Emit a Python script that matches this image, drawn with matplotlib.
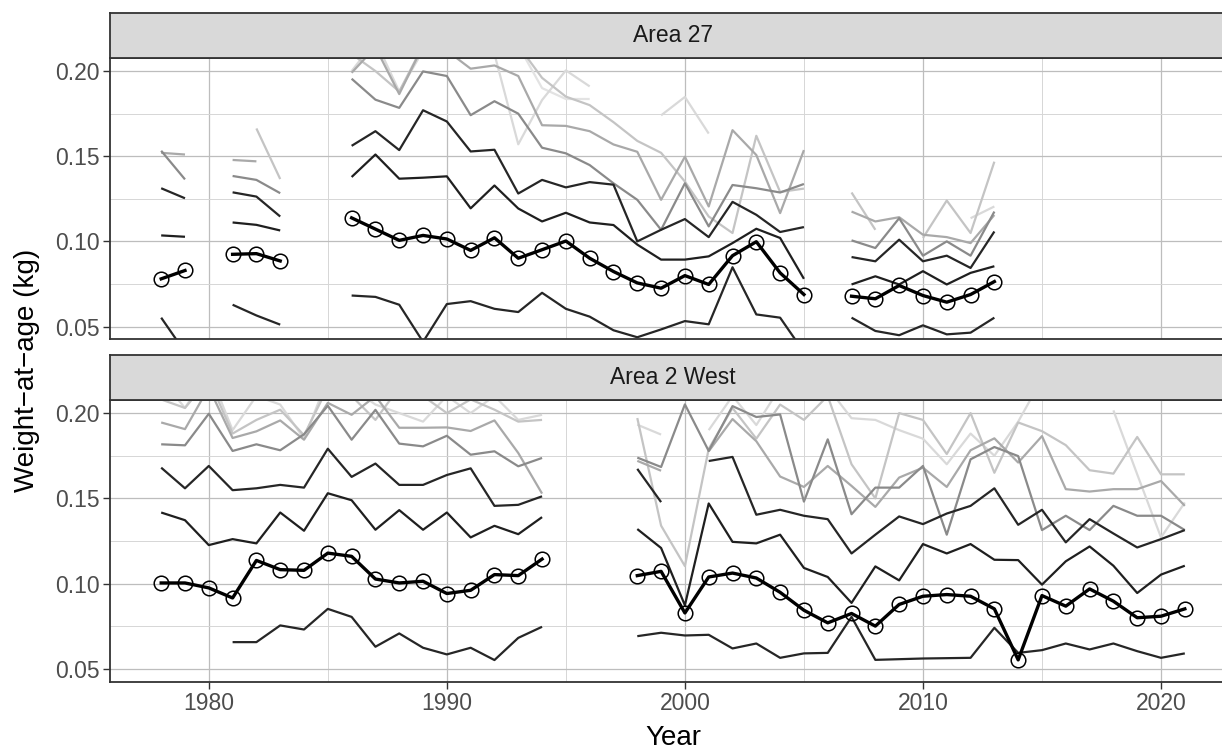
import numpy as np
import matplotlib
matplotlib.use("Agg")
import matplotlib.pyplot as plt
from matplotlib.ticker import MultipleLocator, FormatStrFormatter

plt.rcParams['font.family'] = ['Liberation Sans', 'DejaVu Sans']

nan = np.nan

# weight-at-age (kg) by survey year, one list per age class
years_27 = list(range(1978, 2014))
years_2w = list(range(1978, 2022))

a27_age3 = [.0552, .035, nan, .0628, .0565, .0511, nan, nan,
            .0682, .0674, .0628, .041, .0632, .0649, .0604, .0585, .0698, .0604,
            .0558, .0478, .0437, .0483, .0532, .0513, .0848, .0571, .0552, .035,
            nan, .0552, .0474, .0449, .0507, .0454, .0464, .0552]
a27_age4 = [.078, .0829, nan, .0924, .0928, .0885, nan, nan,
            .1138, .1072, .1006, .1035, .1014, .0947, .1021, .0901, .0951, .1002,
            .0901, .0823, .0756, .0725, .0799, .0747, .0916, .0998, .0815, .0688,
            nan, .0678, .0663, .0741, .0682, .0643, .0688, .0764]
a27_age5 = [.1035, .1027, nan, .1111, .1097, .1064, nan, nan,
            .1378, .1510, .1368, .1374, .1382, .1194, .1328, .1193, .1117, .1168,
            .1111, .1096, .0981, .0893, .0893, .0912, .0990, .1074, .1020, .0780,
            nan, .0747, .0795, .0747, .0825, .0747, .0815, .0854]
a27_age6 = [.1312, .1253, nan, .1288, .1263, .1146, nan, nan,
            .1561, .1647, .1536, .1770, .1704, .1528, .1538, .1281, .1361, .1317,
            .1348, .1333, .1000, .1068, .1131, .1025, .1232, .1156, .1055, .1084,
            nan, .0908, .0883, .1010, .0883, .0916, .0844, .1058]
a27_age7 = [.1532, .1364, nan, .1384, .1361, .1283, nan, nan,
            .1955, .1832, .1784, .1998, .1971, .1741, .1823, .1750, .1550, .1517,
            .1448, .1341, .1244, .1068, .1341, .1088, .1331, .1312, .1287, .1337,
            nan, .1006, .0961, .1136, .0916, .1000, .0916, .1175]
a27_age8 = [.1520, .1510, nan, .1478, .1470, nan, nan, nan,
            .1990, .2140, .1865, .2150, .2120, .2014, .2033, .1971, .1682, .1678,
            .1647, .1569, .1526, .1244, .1497, .1205, .1653, .1507, .1166, .1536,
            nan, .1175, .1117, .1142, .1039, .1025, .0990, .1155]
a27_age9 = [nan, nan, nan, nan, .1663, .1366, nan, nan,
            .2100, .2000, .1880, .2150, .2180, .2120, .2100, .2150, .1960, .1850,
            .1800, .1700, .1590, .1520, .1351, .1146, .1049, .1620, .1290, .1310,
            nan, .1287, .1068, nan, .1020, .1240, .1049, .1468]
a27_age10 = [nan, nan, nan, nan, nan, nan, nan, nan,
             .2000, .2180, .1880, .2120, .2200, .2150, .2100, .1570, .1830, .2004,
             .1910, nan, nan, .1740, .1848, .1633, nan, nan, nan, nan,
             nan, nan, nan, nan, nan, nan, .1136, .1205]
a27_age11 = [nan, nan, nan, nan, nan, nan, nan, nan,
             nan, nan, nan, nan, nan, nan, nan, .2150, .1900, .1836,
             .1836, nan, nan, nan, nan, nan, nan, nan, nan, nan,
             nan, nan, nan, nan, nan, nan, nan, nan]

w2_age3 = [nan, nan, nan, .0657, .0657, .0755, .0731, .0852, .0805, .0630,
           .0708, .0624, .0585, .0624, .0552, .0682, .0747, nan, nan, nan,
           .0692, .0712, .0696, .0700, .0620, .0649, .0565, .0591, .0594, .0805,
           .0553, .0557, .0561, .0563, .0565, .0741, .0594, .0610, .0649, .0614,
           .0649, .0604, .0565, .0591]
w2_age4 = [.1004, .1004, .0975, .0916, .1136, .1082, .1078, .1179, .1160, .1027,
           .1004, .1014, .0942, .0961, .1053, .1047, .1144, nan, nan, nan,
           .1047, .1072, .0828, .1039, .1062, .1033, .0949, .0844, .0770, .0825,
           .0751, .0878, .0926, .0936, .0926, .0852, .0553, .0930, .0868, .0969,
           .0897, .0800, .0809, .0852]
w2_age5 = [.1417, .1372, .1226, .1261, .1236, .1417, .1310, .1530, .1489, .1316,
           .1431, .1316, .1417, .1271, .1339, .1290, .1390, nan, nan, nan,
           .1320, .1209, .0873, .1470, .1245, .1236, .1287, .1092, .1039, .0887,
           .1101, .1019, .1232, .1177, .1232, .1140, .1138, .0994, .1131, .1218,
           .1105, .0945, .1053, .1105]
w2_age6 = [.1680, .1559, .1690, .1548, .1559, .1579, .1563, .1791, .1626, .1704,
           .1579, .1579, .1637, .1676, .1456, .1462, .1512, nan, nan, nan,
           .1673, .1478, nan, .1719, .1743, .1404, .1433, .1398, .1378, .1177,
           .1287, .1394, .1349, .1411, .1456, .1559, .1345, .1433, .1242, .1378,
           .1294, .1212, .1261, .1314]
w2_age7 = [.1817, .1811, .1996, .1778, .1817, .1782, .1876, .2043, .1844, .2019,
           .1821, .1805, .1867, .1756, .1776, .1688, .1737, nan, nan, nan,
           .1739, .1684, .2051, .1778, .2041, .1977, .1992, .1481, .1846, .1407,
           .1563, .1563, .1690, .1287, .1729, .1801, .1748, .1314, .1398, .1314,
           .1456, .1398, .1398, .1314]
w2_age8 = [.1945, .1906, .2150, .1854, .1893, .1957, .1844, .2060, .1990, .2100,
           .1914, .1914, .1916, .1895, .1957, .1766, .1528, nan, nan, nan,
           .1720, .1662, nan, .1776, .1965, .1835, .1628, .1567, .1690, .1573,
           .1450, .1622, .1680, .1567, .1782, .1852, .1710, .1865, .1554, .1540,
           .1554, .1554, .1602, .1456]
w2_age9 = [.2080, .2030, .2200, .1880, .1960, .2020, .1870, .2150, .2100, .1960,
           .2150, .2100, .2000, .2080, .2020, .1950, .1960, nan, nan, nan,
           .1971, .1340, .1103, .1790, .2030, .1850, .2050, .1960, .2100, .1700,
           .1500, .2000, .1960, .1760, .2000, .1650, .1945, .1894, .1812, .1665,
           .1645, .1860, .1641, .1641]
w2_age10 = [.2200, .2030, .2250, .1900, .2100, .2050, .1850, .2200, .2150, .2050,
            .2000, .1950, .2100, .2000, .2100, .1960, .1990, nan, nan, nan,
            .1932, .1874, nan, .1900, .2100, .1930, .2150, .2200, .2150, .1970,
            .1960, .1900, .1850, .1700, .1880, .1750, .1950, .2200, nan, nan,
            .2016, .1641, .1271, .1476]

ages = [11, 10, 9, 8, 7, 6, 5, 3]
age_colours = {3: '#262626', 5: '#1f1f1f', 6: '#262626', 7: '#8a8a8a',
               8: '#a9a9a9', 9: '#c4c4c4', 10: '#d9d9d9', 11: '#e3e3e3'}

areas = [
    ("Area 27", years_27, {3: a27_age3, 5: a27_age5, 6: a27_age6, 7: a27_age7,
                           8: a27_age8, 9: a27_age9, 10: a27_age10, 11: a27_age11},
     a27_age4),
    ("Area 2 West", years_2w, {3: w2_age3, 5: w2_age5, 6: w2_age6, 7: w2_age7,
                               8: w2_age8, 9: w2_age9, 10: w2_age10},
     w2_age4),
]

W, H = 1222, 749
fig = plt.figure(figsize=(W / 100, H / 100), dpi=100)

left = 110 / W
width = (1236 - 110) / W
# (strip top, panel top, panel bottom) in pixels
boxes = [(12.7, 58.3, 339.3), (355.0, 400.3, 681.7)]

edge = '#333333'
for i, ((name, yrs, series, focus), (s_top, p_top, p_bot)) in enumerate(zip(areas, boxes)):
    ax = fig.add_axes([left, 1 - p_bot / H, width, (p_bot - p_top) / H])
    for age in ages:
        if age in series:
            ax.plot(yrs, np.array(series[age], dtype=float), color=age_colours[age],
                    lw=1.6, solid_capstyle='butt', zorder=2)
    ax.plot(yrs, np.array(focus, dtype=float), color='black', lw=2.4, zorder=3,
            marker='o', ms=10.5, mfc='none', mec='black', mew=1.1)

    ax.set_xlim(1975.85, 2023.15)
    ax.set_ylim(0.0425, 0.2075)
    ax.xaxis.set_major_locator(MultipleLocator(10))
    ax.xaxis.set_minor_locator(MultipleLocator(5))
    ax.yaxis.set_major_locator(MultipleLocator(0.05))
    ax.yaxis.set_minor_locator(MultipleLocator(0.025))
    ax.yaxis.set_major_formatter(FormatStrFormatter('%.2f'))
    ax.grid(which='major', color='#bdbdbd', lw=0.9, zorder=0)
    ax.grid(which='minor', color='#d6d6d6', lw=0.7, zorder=0)
    ax.set_axisbelow(True)
    ax.tick_params(which='minor', length=0)
    ax.tick_params(which='major', length=4.7, width=1.0, color=edge,
                   labelsize=16.5, labelcolor='#4d4d4d', pad=2.5)
    for sp in ax.spines.values():
        sp.set_color(edge)
        sp.set_linewidth(1.3)
    if i == 0:
        ax.tick_params(axis='x', which='both', bottom=False, labelbottom=False)

    strip = fig.add_axes([left, 1 - p_top / H, width, (p_top - s_top) / H])
    strip.set_facecolor('#d9d9d9')
    strip.set_xticks([])
    strip.set_yticks([])
    for sp in strip.spines.values():
        sp.set_color(edge)
        sp.set_linewidth(1.3)
    strip.text((673 - 110) / (1236 - 110), 0.5, name, transform=strip.transAxes,
               ha='center', va='center', fontsize=16.5, color='#1a1a1a')

fig.text(673 / W, 1 - 745 / H, "Year", ha='center', va='baseline', fontsize=20)
fig.text(27 / W, 1 - 370 / H, "Weight\u2212at\u2212age (kg)", rotation=90,
         ha='center', va='center', fontsize=20)

fig.savefig("out.png", dpi=100)
